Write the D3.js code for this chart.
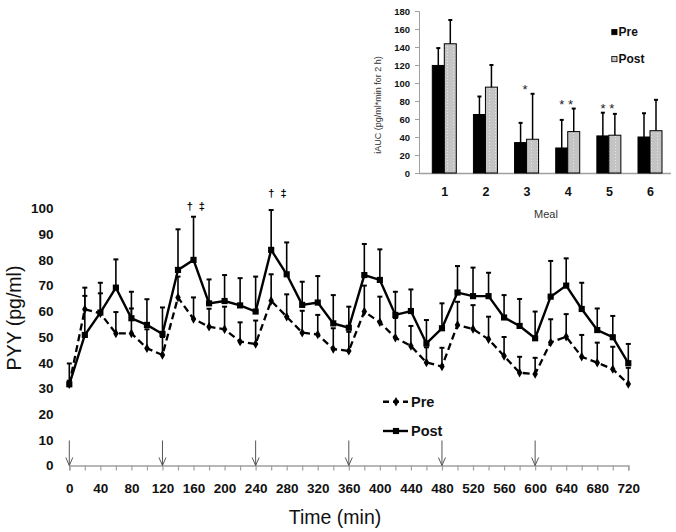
<!DOCTYPE html>
<html><head><meta charset="utf-8">
<script src="https://cdn.jsdelivr.net/npm/d3@7"></script>
<style>
body{margin:0;background:#fff}
svg{display:block;background:#fff}
text{font-family:"Liberation Sans",Arial,sans-serif}
</style>
</head><body>
<svg id="c" width="676" height="532"></svg>
<script>
// ---------- main chart data ----------
const times = [0,20,40,60,80,100,120,140,160,180,200,220,240,260,280,300,320,340,360,380,400,420,440,460,480,500,520,540,560,580,600,620,640,660,680,700,720];
const preVals  = [31.6,60.8,59.2,51.4,51.4,45.6,43.0,65.4,57.0,54.0,53.0,48.2,47.3,64.1,57.9,51.7,51.0,45.3,44.6,59.9,55.7,49.7,46.5,40.1,38.5,54.7,53.1,49.1,42.6,36.1,35.6,47.9,50.1,42.3,40.0,37.5,31.7];
const preErr   = [8.1,5.2,7.8,8.3,9.7,7.4,7.0,8.1,8.4,7.0,8.8,7.5,9.1,10.3,8.7,8.5,7.6,8.1,7.4,10.1,10.0,7.7,7.8,5.9,7.3,9.0,9.3,8.8,7.4,6.2,6.3,9.0,8.8,8.5,7.8,8.7,6.3];
const postVals = [31.6,50.8,59.5,69.2,57.3,54.7,51.2,76.1,80.0,63.1,64.0,62.3,59.9,83.9,74.4,62.5,63.4,55.3,53.6,74.1,72.2,58.6,60.1,47.5,53.4,67.3,65.9,65.9,57.6,54.3,49.5,65.7,70.0,60.9,52.7,49.9,39.8];
const postErr  = [1.4,18.4,11.6,11.0,10.3,10.0,10.3,15.8,16.8,9.3,10.1,10.6,13.6,15.5,12.4,9.0,10.3,11.0,8.2,12.1,11.9,9.0,8.4,9.1,9.7,10.3,11.1,9.1,8.7,10.5,10.4,13.9,10.6,10.2,8.4,8.3,7.5];
const xTickLabels = [0,40,80,120,160,200,240,280,320,360,400,440,480,520,560,600,640,680,720];
const yTicks = [0,10,20,30,40,50,60,70,80,90,100];
const mealTimes = [0,120,240,360,480,600];
const daggers = [{t:163, v:101, text:"\u2020 \u2021"},{t:268, v:106, text:"\u2020 \u2021"}];
const seriesNames = ["Pre","Post"];

// ---------- inset data ----------
const meals = ["1","2","3","4","5","6"];
const aucPre     = [119.5,65.0,33.8,27.8,41.2,40.0];
const aucPreErr  = [19.3,20.0,21.9,31.2,25.8,26.4];
const aucPost    = [143.6,95.4,37.5,46.0,42.0,47.0];
const aucPostErr = [26.4,24.6,50.5,25.6,23.7,34.3];
const aucSig     = ["","","*","* *","* *",""];
const aucTicks   = [0,20,40,60,80,100,120,140,160,180];

const svg = d3.select("#c");
const defs = svg.append("defs");
const pat = defs.append("pattern").attr("id","dots").attr("width",6).attr("height",3)
  .attr("patternUnits","userSpaceOnUse");
pat.append("rect").attr("width",6).attr("height",3).attr("fill","#c4c4c4");
pat.append("rect").attr("x",3).attr("y",1).attr("width",1).attr("height",1).attr("fill","#e6e6e6");

// ================= MAIN CHART =================
const x = d3.scaleLinear().domain([0,720]).range([69.3,628.3]);
const y = d3.scaleLinear().domain([0,100]).range([465.5,208.5]);

const yAx = svg.append("g").attr("transform",`translate(${x(0)},0)`)
  .call(d3.axisLeft(y).tickValues(yTicks).tickSize(0).tickPadding(15.8));
yAx.select(".domain").remove();
yAx.selectAll("text").attr("font-size",13.5).attr("font-weight","bold").attr("fill","#111")
  .attr("font-family",'"Liberation Sans",Arial,sans-serif');

const xAx = svg.append("g").attr("transform",`translate(0,${y(0)})`)
  .call(d3.axisBottom(x).tickValues(times).tickSize(5).tickPadding(13)
    .tickFormat(d => xTickLabels.includes(d) ? d : ""));
xAx.select(".domain").attr("stroke","#a0a0a0").attr("stroke-width",1.6);
xAx.selectAll(".tick line").attr("stroke","#a0a0a0").attr("stroke-width",1.2);
xAx.selectAll("text").attr("font-size",13.5).attr("font-weight","bold").attr("fill","#111")
  .attr("font-family",'"Liberation Sans",Arial,sans-serif');

const arr = svg.append("g").attr("stroke","#555").attr("stroke-width",1).attr("fill","none");
mealTimes.forEach(t => {
  const xx = x(t), y1 = y(0) - 25, y2 = y(0);
  arr.append("line").attr("x1",xx).attr("x2",xx).attr("y1",y1).attr("y2",y2);
  arr.append("path").attr("d",`M${xx-3.5},${y2-8}L${xx},${y2}L${xx+3.5},${y2-8}`);
});

svg.append("text").attr("x",335).attr("y",523.5).attr("text-anchor","middle")
  .attr("font-size",19.5).attr("fill","#111").text("Time (min)");
svg.append("text").attr("transform","translate(21,318) rotate(-90)").attr("text-anchor","middle")
  .attr("font-size",19.5).attr("fill","#111").text("PYY (pg/ml)");

const preData = times.map((t,i)=>({t, v:preVals[i], e:preErr[i]}));
const postData = times.map((t,i)=>({t, v:postVals[i], e:postErr[i]}));

function errBars(data){
  const g = svg.append("g").attr("stroke","#000");
  data.forEach(d=>{
    g.append("line").attr("x1",x(d.t)).attr("x2",x(d.t)).attr("y1",y(d.v)).attr("y2",y(d.v+d.e)).attr("stroke-width",1.6);
    g.append("line").attr("x1",x(d.t)-2.5).attr("x2",x(d.t)+2.5).attr("y1",y(d.v+d.e)).attr("y2",y(d.v+d.e)).attr("stroke-width",2);
  });
}
errBars(preData);
errBars(postData);

const line = d3.line().x(d=>x(d.t)).y(d=>y(d.v));
svg.append("path").datum(preData).attr("d",line).attr("fill","none").attr("stroke","#000")
  .attr("stroke-width",2.3).attr("stroke-dasharray","7,4");
svg.append("path").datum(postData).attr("d",line).attr("fill","none").attr("stroke","#000")
  .attr("stroke-width",2.4);

const diamond = d3.symbol().type(d3.symbolDiamond).size(26);
const square = d3.symbol().type(d3.symbolSquare).size(38);
svg.append("g").selectAll("path").data(preData).join("path")
  .attr("transform",d=>`translate(${x(d.t)},${y(d.v)})`).attr("d",diamond).attr("fill","#000");
svg.append("g").selectAll("path").data(postData).join("path")
  .attr("transform",d=>`translate(${x(d.t)},${y(d.v)})`).attr("d",square).attr("fill","#000");

svg.append("g").selectAll("text").data(daggers).join("text")
  .attr("x",d=>x(d.t)).attr("y",d=>y(d.v)+4).attr("text-anchor","middle")
  .attr("font-size",11).attr("font-weight","bold").attr("word-spacing","3px").attr("fill","#000")
  .text(d=>d.text);

const leg = svg.append("g");
[[401.7,"7,4",diamond],[431,null,square]].forEach((row,i)=>{
  const [ly,dash,sym] = row;
  const l = leg.append("line").attr("x1",383).attr("x2",408).attr("y1",ly).attr("y2",ly)
    .attr("stroke","#000").attr("stroke-width",2.4);
  if(dash) l.attr("stroke-dasharray","6,4");
  leg.append("path").attr("transform",`translate(396,${ly})`).attr("d",sym).attr("fill","#000");
  leg.append("text").attr("x",411).attr("y",ly+5.3).attr("font-size",14.5).attr("font-weight","bold")
    .attr("fill","#111").text(seriesNames[i]);
});

// ================= INSET =================
const xi = d3.scalePoint().domain(meals).range([444.3,650]);
const yi = d3.scaleLinear().domain([0,180]).range([173,11]);
const bw = 12;

const yiAx = svg.append("g").attr("transform","translate(419,0)")
  .call(d3.axisLeft(yi).tickValues(aucTicks).tickSize(4).tickPadding(5));
yiAx.select(".domain").attr("stroke","#a0a0a0");
yiAx.selectAll(".tick line").attr("stroke","#a0a0a0");
yiAx.selectAll("text").attr("font-size",9.5).attr("font-weight","bold").attr("fill","#111")
  .attr("font-family",'"Liberation Sans",Arial,sans-serif');

const xiAx = svg.append("g").attr("transform",`translate(0,${yi(0)})`)
  .call(d3.axisBottom(xi).tickSize(0).tickPadding(14));
xiAx.select(".domain").attr("d","M419,0.5H671").attr("stroke","#a0a0a0").attr("stroke-width",1.5);
xiAx.selectAll("text").attr("font-size",12.5).attr("font-weight","bold").attr("fill","#111")
  .attr("font-family",'"Liberation Sans",Arial,sans-serif');

const ig = svg.append("g");
meals.forEach((m,i)=>{
  const c = xi(m);
  ig.append("rect").attr("x",c-bw).attr("y",yi(aucPre[i])).attr("width",bw).attr("height",yi(0)-yi(aucPre[i]))
    .attr("fill","#000").attr("stroke","#000");
  ig.append("rect").attr("x",c).attr("y",yi(aucPost[i])).attr("width",bw).attr("height",yi(0)-yi(aucPost[i]))
    .attr("fill","url(#dots)").attr("stroke","#000").attr("stroke-width",1);
  [[c-bw/2,aucPre[i],aucPreErr[i]],[c+bw/2,aucPost[i],aucPostErr[i]]].forEach(([cx,v,e])=>{
    ig.append("line").attr("x1",cx).attr("x2",cx).attr("y1",yi(v)).attr("y2",yi(v+e)).attr("stroke","#000").attr("stroke-width",1.5);
    ig.append("line").attr("x1",cx-2).attr("x2",cx+2).attr("y1",yi(v+e)).attr("y2",yi(v+e)).attr("stroke","#000").attr("stroke-width",2);
  });
  if(aucSig[i]){
    const top = Math.max(aucPre[i]+aucPreErr[i], aucPost[i]+aucPostErr[i]);
    ig.append("text").attr("x",c-1.5).attr("y",yi(top)).attr("text-anchor","middle")
      .attr("font-size",13).attr("fill","#222").text(aucSig[i]);
  }
});

svg.append("text").attr("transform","translate(381,105) rotate(-90)").attr("text-anchor","middle")
  .attr("font-size",9).attr("fill","#333").text("iAUC (pg/ml*min for 2 h)");
svg.append("text").attr("x",546).attr("y",218).attr("text-anchor","middle")
  .attr("font-size",11).attr("fill","#333").text("Meal");

const il = svg.append("g");
[[32.2,"#000"],[59.2,"url(#dots)"]].forEach(([ly,f],i)=>{
  il.append("rect").attr("x",611.8).attr("y",ly-2.7).attr("width",5.2).attr("height",5.2)
    .attr("fill",f).attr("stroke","#000").attr("stroke-width",0.8);
  il.append("text").attr("x",618.5).attr("y",ly+4.2).attr("font-size",12).attr("font-weight","bold")
    .attr("fill","#111").text(seriesNames[i]);
});
</script>
</body></html>
